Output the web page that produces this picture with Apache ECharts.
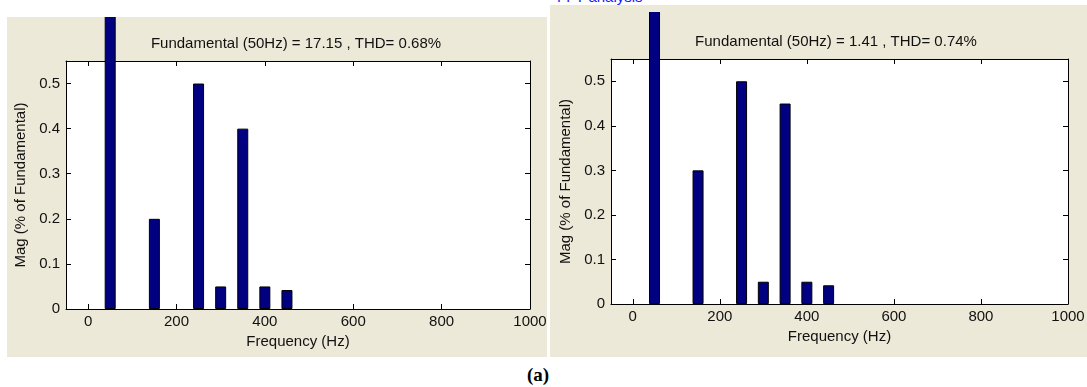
<!DOCTYPE html>
<html><head><meta charset="utf-8">
<script src="https://cdn.jsdelivr.net/npm/echarts@6/dist/echarts.min.js"></script>
<style>
html,body{margin:0;padding:0;background:#fff;width:1087px;height:387px;overflow:hidden;position:relative;font-family:"Liberation Sans",Arial,sans-serif;}
.bg{position:absolute;background:#ECE9D8;}
.chart{position:absolute;overflow:hidden;}
</style></head><body>
<div class="bg" style="left:7px;top:17px;width:540px;height:340px"></div>
<div id="c1" class="chart" style="left:7px;top:17px;width:540px;height:340px"></div>
<div class="bg" style="left:550px;top:5px;width:537px;height:352px"></div>
<div id="fft" style="position:absolute;left:557px;top:-11px;font-size:15px;line-height:15px;color:#1a1aff;white-space:nowrap;">FFT analysis</div>
<div id="c2" class="chart" style="left:550px;top:12px;width:537px;height:345px"></div>
<div id="cap" style="position:absolute;left:527px;top:364px;font:bold 19px 'Liberation Serif',serif;line-height:22px;color:#000;">(a)</div>
<script>
// ---- data ----
const freqs = [50, 150, 250, 300, 350, 400, 450];           // Hz
const magA  = [100, 0.2, 0.5, 0.05, 0.4, 0.05, 0.042];       // % of fundamental (left)
const magB  = [100, 0.3, 0.5, 0.05, 0.45, 0.05, 0.042];      // % of fundamental (right)
const titleA = 'Fundamental (50Hz) = 17.15 , THD= 0.68%';
const titleB = 'Fundamental (50Hz) = 1.41 , THD= 0.74%';
const xTicks = [0, 200, 400, 600, 800, 1000];
const yTicks = [0, 0.1, 0.2, 0.3, 0.4, 0.5];
const xName = 'Frequency (Hz)';
const yName = 'Mag (% of Fundamental)';

const FONT = '"Liberation Sans", Arial, sans-serif';
const FS = 15;
const TXT = '#111';

function axisCommon(ticks) {
  return {
    axisLine: { show: true, onZero: false, lineStyle: { color: '#000', width: 1 } },
    axisTick: { show: true, inside: true, length: 5, customValues: ticks, lineStyle: { color: '#000' } },
    splitLine: { show: false }
  };
}

function build(mags, title, g, t, xGap, yGap) {
  return {
    animation: false,
    textStyle: { fontFamily: FONT },
    title: {
      text: title, left: t[0], top: t[1], textAlign: 'center', padding: 0,
      textStyle: { fontSize: FS, fontWeight: 'normal', color: TXT, fontFamily: FONT }
    },
    grid: { left: g[0], right: g[1], top: g[2], bottom: g[3], show: true, backgroundColor: '#fff', borderWidth: 0, containLabel: false, outerBoundsMode: 'none' },
    xAxis: [
      Object.assign({
        type: 'value', min: -50, max: 1000, position: 'bottom',
        name: xName, nameLocation: 'middle', nameGap: xGap,
        nameTextStyle: { fontSize: FS, color: TXT, fontFamily: FONT },
        axisLabel: { customValues: xTicks, margin: 5, fontSize: FS, color: TXT, fontFamily: FONT, formatter: v => String(v) }
      }, axisCommon(xTicks)),
      Object.assign({
        type: 'value', min: -50, max: 1000, position: 'top',
        axisLabel: { show: false }
      }, axisCommon(xTicks))
    ],
    yAxis: [
      Object.assign({
        type: 'value', min: 0, max: 0.55, position: 'left',
        name: yName, nameLocation: 'middle', nameGap: yGap,
        nameTextStyle: { fontSize: FS, color: TXT, fontFamily: FONT },
        axisLabel: { customValues: yTicks, margin: 6, fontSize: FS, color: TXT, fontFamily: FONT, formatter: v => String(v) }
      }, axisCommon(yTicks)),
      Object.assign({
        type: 'value', min: 0, max: 0.55, position: 'right',
        axisLabel: { show: false }
      }, axisCommon(yTicks))
    ],
    series: [{
      type: 'bar', xAxisIndex: 0, yAxisIndex: 0,
      data: freqs.map((f, i) => [f, mags[i]]),
      barWidth: 11, clip: false,
      itemStyle: { color: '#000080', borderColor: '#000', borderWidth: 1 }
    }]
  };
}

const c1 = echarts.init(document.getElementById('c1'), null, { renderer: 'canvas' });
c1.setOption(build(magA, titleA, [59, 17, 44, 48], [289, 19], 24, 35));
const c2 = echarts.init(document.getElementById('c2'), null, { renderer: 'canvas' });
c2.setOption(build(magB, titleB, [61, 19, 47, 53], [286, 22], 25, 33));
</script>
</body></html>
